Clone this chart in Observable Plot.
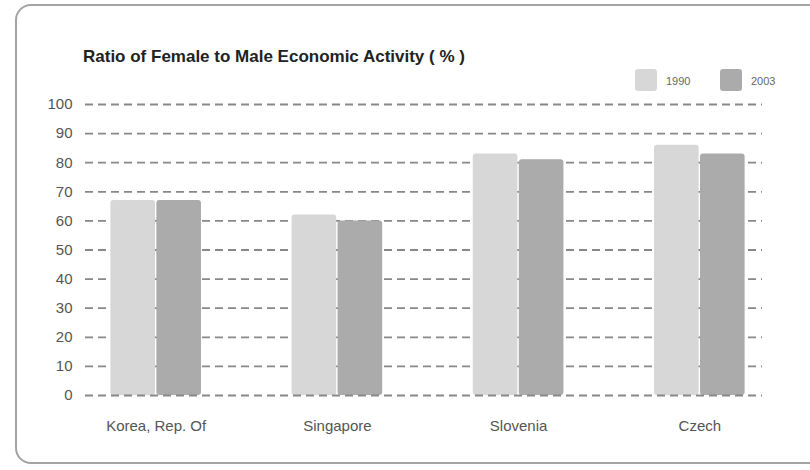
<!DOCTYPE html>
<html>
<head>
<meta charset="utf-8">
<script src="https://cdn.jsdelivr.net/npm/d3@7"></script>
<script src="https://cdn.jsdelivr.net/npm/@observablehq/plot@0.6"></script>
<style>
  html, body { margin: 0; padding: 0; background: #fff; }
  #wrap { position: relative; width: 810px; height: 470px; overflow: hidden; font-family: "Liberation Sans", Arial, sans-serif; }
  #box { position: absolute; left: 15px; top: 4px; width: 900px; height: 460px; border: 2px solid #a3a3a3; border-radius: 16px; box-sizing: border-box; }
  #title { position: absolute; left: 83px; top: 48px; font-size: 17px; line-height: 17px; font-weight: bold; color: #222; letter-spacing: 0px; white-space: nowrap; }
  .sw { position: absolute; top: 69px; width: 22px; height: 22px; border-radius: 3px; }
  .lt { position: absolute; top: 75px; font-size: 11px; line-height: 12px; color: #666; }
  #chart { position: absolute; left: 0; top: 0; }
</style>
</head>
<body>
<div id="wrap">
  <div id="box"></div>
  <div id="title"></div>
  <div id="legend"></div>
  <div id="chart"></div>
</div>
<script>
// Ratio of female to male economic activity, by country and year (%)
const countries = ["Korea, Rep. Of", "Singapore", "Slovenia", "Czech"];
const years = ["1990", "2003"];
const values1990 = [67, 62, 83, 86];
const values2003 = [67, 60, 81, 83];
const yTicks = [0, 10, 20, 30, 40, 50, 60, 70, 80, 90, 100];
const colors = ["#d7d7d7", "#ababab"];
const titleText = "Ratio of Female to Male Economic Activity ( % )";

const rows = countries.flatMap((c, i) => [
  {country: c, year: years[0], value: values1990[i]},
  {country: c, year: years[1], value: values2003[i]}
]);
const rowsA = rows.filter(d => d.year === years[0]);
const rowsB = rows.filter(d => d.year === years[1]);

document.getElementById("title").textContent = titleText;

// legend swatches
const legend = document.getElementById("legend");
const swX = [635, 720];
years.forEach((y, i) => {
  const s = document.createElement("div");
  s.className = "sw";
  s.style.left = swX[i] + "px";
  s.style.background = colors[i];
  legend.appendChild(s);
  const t = document.createElement("div");
  t.className = "lt";
  t.style.left = (swX[i] + 31) + "px";
  t.textContent = y;
  legend.appendChild(t);
});

const half = 46; // inset that splits each country band into two bars

const plot = Plot.plot({
  width: 810,
  height: 470,
  marginTop: 104,
  marginBottom: 75,
  marginLeft: 85,
  marginRight: 48,
  style: {background: "transparent", color: "#555", fontFamily: "'Liberation Sans', Arial, sans-serif"},
  x: {domain: countries, range: [85, 770], paddingInner: 0.5, paddingOuter: 0.14, round: false},
  y: {domain: [0, 100]},
  marks: [
    Plot.ruleY(yTicks.filter(t => t > 0), {stroke: "#888", strokeWidth: 1.8, strokeDasharray: "8,5"}),
    Plot.barY(rowsA, {x: "country", y: "value", fill: colors[0], insetRight: half, rx: 3}),
    Plot.barY(rowsB, {x: "country", y: "value", fill: colors[1], insetLeft: half, rx: 3}),
    Plot.ruleY([0], {stroke: "#888", strokeWidth: 1.8, strokeDasharray: "8,5"}),
    Plot.axisY({ticks: yTicks, tickSize: 0, tickPadding: 13, fontSize: 15, label: null}),
    Plot.axisX({tickSize: 0, tickPadding: 25, fontSize: 15, label: null})
  ]
});
document.getElementById("chart").appendChild(plot);
</script>
</body>
</html>
